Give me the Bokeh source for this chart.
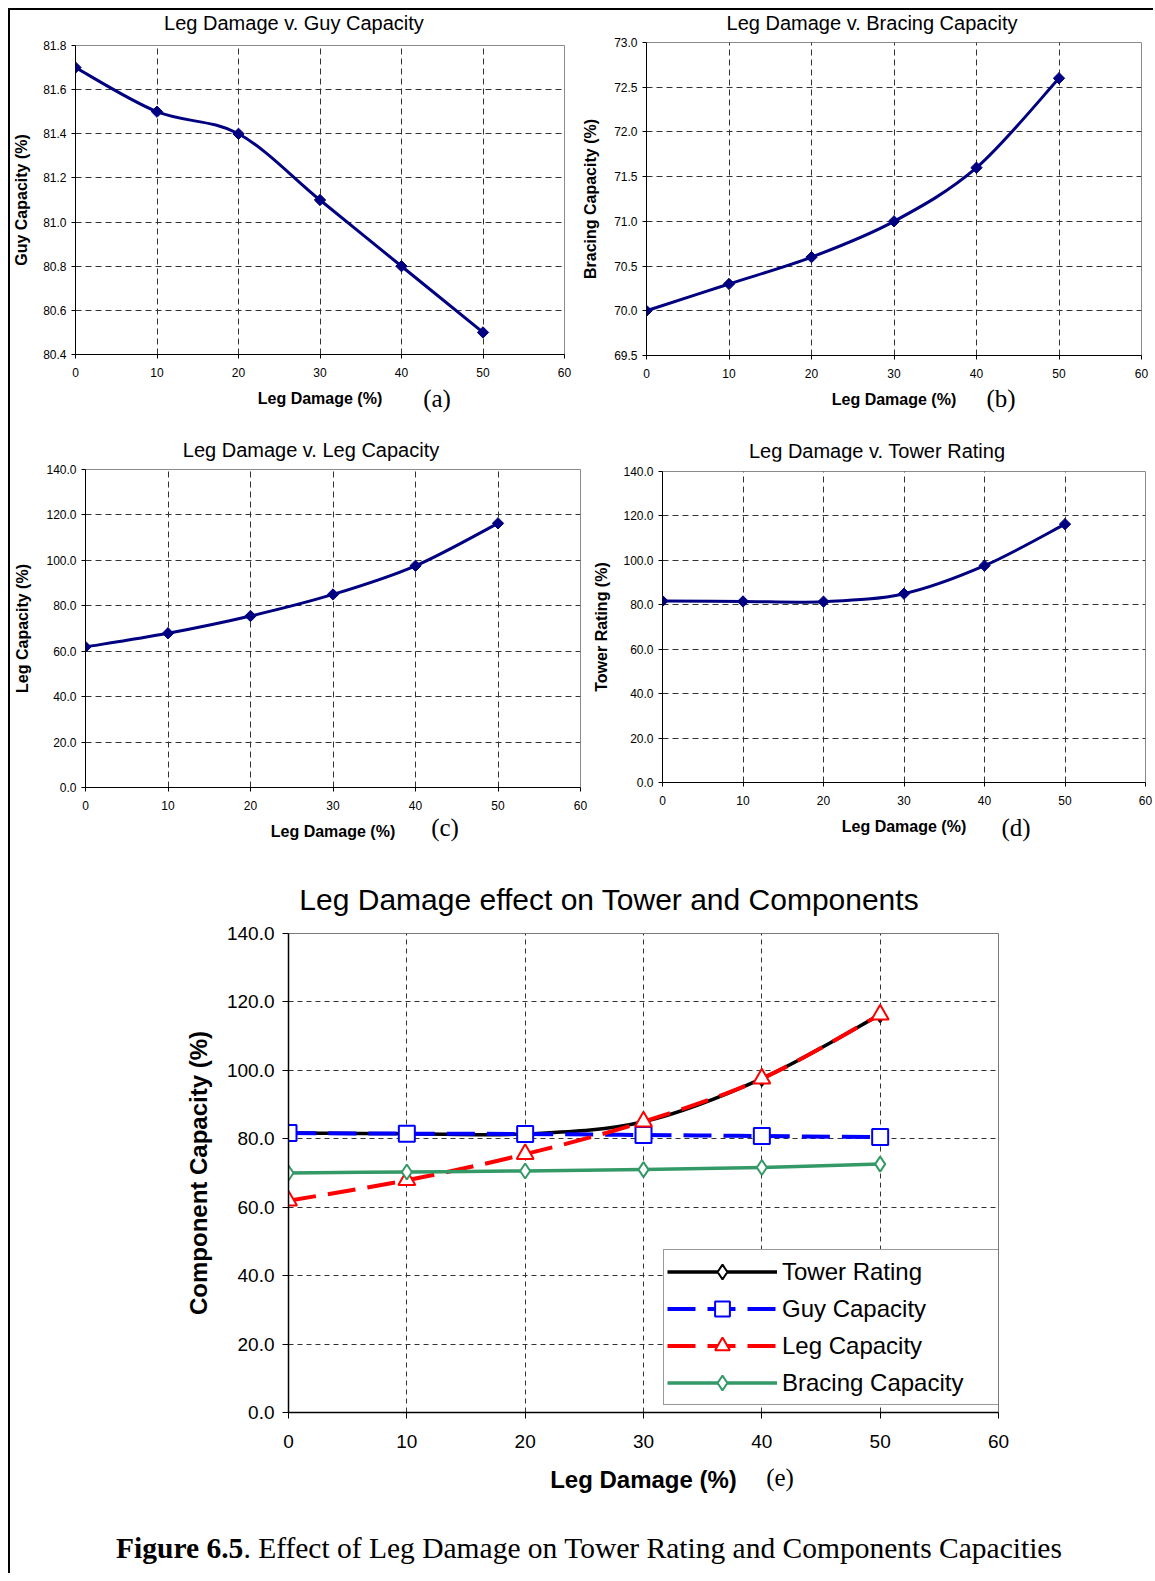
import math
from bokeh.plotting import figure
from bokeh.models import (Range1d, FixedTicker, PrintfTickFormatter,
                          Legend, LegendItem, Div)
from bokeh.layouts import column, row
from bokeh.embed import file_html
from bokeh.resources import INLINE

# ---------------- data ----------------
DAMAGE = [0, 10, 20, 30, 40, 50]
GUY = [81.7, 81.5, 81.4, 81.1, 80.8, 80.5]
BRACING = [70.0, 70.3, 70.6, 71.0, 71.6, 72.6]
LEG = [61.9, 67.9, 75.5, 85.0, 97.6, 116.3]
TOWER = [81.7, 81.5, 81.4, 85.0, 97.6, 116.3]

X_TICKS = [0, 10, 20, 30, 40, 50, 60]
GUY_TICKS = [80.4, 80.6, 80.8, 81.0, 81.2, 81.4, 81.6, 81.8]
BRACING_TICKS = [69.5, 70.0, 70.5, 71.0, 71.5, 72.0, 72.5, 73.0]
CAP_TICKS = [0, 20, 40, 60, 80, 100, 120, 140]

SANS = "Liberation Sans"
SERIF = "Liberation Serif"
NAVY = "#000080"


def smooth_parts(xs, ys):
    """Bezier control points (Catmull-Rom style, as in Excel smoothed lines)."""
    n = len(xs)
    out = dict(x0=[], y0=[], x1=[], y1=[], cx0=[], cy0=[], cx1=[], cy1=[])
    for i in range(n - 1):
        a = max(i - 1, 0)
        d = min(i + 2, n - 1)
        out["x0"].append(xs[i]); out["y0"].append(ys[i])
        out["x1"].append(xs[i + 1]); out["y1"].append(ys[i + 1])
        out["cx0"].append(xs[i] + (xs[i + 1] - xs[a]) / 6.0)
        out["cy0"].append(ys[i] + (ys[i + 1] - ys[a]) / 6.0)
        out["cx1"].append(xs[i + 1] - (xs[d] - xs[i]) / 6.0)
        out["cy1"].append(ys[i + 1] - (ys[d] - ys[i]) / 6.0)
    return out


def base_fig(left, fw, right, top, fh, bottom, yticks, ylabel, xlabel,
             tick_size, label_size, tick_out, tick_standoff_x, tick_standoff_y,
             lab_standoff_x, lab_standoff_y, grid_dash):
    p = figure(frame_width=fw, frame_height=fh,
               min_border_left=left, min_border_right=right,
               min_border_top=top, min_border_bottom=bottom,
               x_range=Range1d(X_TICKS[0], X_TICKS[-1]),
               y_range=Range1d(yticks[0], yticks[-1]),
               output_backend="svg", toolbar_location=None, margin=0)
    p.background_fill_color = "white"
    p.border_fill_color = "white"
    p.outline_line_color = "#8a8a8a"
    p.outline_line_width = 1
    p.xaxis.ticker = FixedTicker(ticks=X_TICKS)
    p.yaxis.ticker = FixedTicker(ticks=yticks)
    p.yaxis.formatter = PrintfTickFormatter(format="%.1f")
    p.xgrid.ticker = FixedTicker(ticks=X_TICKS[1:-1])
    p.ygrid.ticker = FixedTicker(ticks=yticks[1:-1])
    p.grid.grid_line_color = "#333333"
    p.grid.grid_line_dash = grid_dash
    p.grid.grid_line_width = 1
    for ax in (p.xaxis[0], p.yaxis[0]):
        ax.axis_line_color = "black"
        ax.axis_line_width = 1
        ax.major_tick_line_color = "black"
        ax.major_tick_in = 0
        ax.major_tick_out = tick_out
        ax.minor_tick_line_color = None
        ax.major_label_text_font = SANS
        ax.major_label_text_font_size = tick_size
        ax.major_label_text_color = "black"
        ax.axis_label_text_font = SANS
        ax.axis_label_text_font_style = "bold"
        ax.axis_label_text_font_size = label_size
        ax.axis_label_text_color = "black"
    p.xaxis.axis_label = xlabel
    p.yaxis.axis_label = ylabel
    p.xaxis.major_label_standoff = tick_standoff_x
    p.yaxis.major_label_standoff = tick_standoff_y
    p.xaxis.axis_label_standoff = lab_standoff_x
    p.yaxis.axis_label_standoff = lab_standoff_y
    return p


def title_div(text, width, height, center_x, center_y, size, line_h):
    box_w = 700
    html = ('<div style="font-family:\'Liberation Sans\';font-size:%s;'
            'color:black;white-space:nowrap;text-align:center;width:%dpx;'
            'margin-left:%dpx;margin-top:%.1fpx;line-height:%dpx;">%s</div>'
            % (size, box_w, int(round(center_x - box_w / 2)),
               center_y - line_h / 2.0, line_h, text))
    return Div(text=html, width=width, height=height, margin=0)


TAG_H = 46


def tag_div(tag, width, center_x, center_y):
    """Panel tag such as (a), laid over the bottom strip of its chart."""
    html = ('<div style="font-family:\'Liberation Serif\';font-size:25px;'
            'color:black;white-space:nowrap;text-align:center;width:100px;'
            'margin-left:%dpx;margin-top:%.1fpx;line-height:30px;">%s</div>'
            % (int(round(center_x - 50)), center_y - 15, tag))
    return Div(text=html, width=width, height=TAG_H,
               margin=(-TAG_H, 0, 0, 0),
               styles={"position": "relative", "z-index": "5",
                       "background": "transparent"})


def small_panel(width, left, fw, right, top, fh, bottom, yticks, vals, title,
                div_h, tcx, tcy, ylabel, tag, gx, gy, ylab_standoff):
    p = base_fig(left, fw, right, top, fh, bottom, yticks, ylabel,
                 "Leg Damage (%)", "12px", "16px", 4, 9, 5, 10, ylab_standoff,
                 "6 4")
    sp = smooth_parts(DAMAGE, vals)
    p.bezier(**sp, line_color=NAVY, line_width=3)
    p.scatter(DAMAGE, vals, marker="square", angle=math.pi / 4, size=8,
              fill_color=NAVY, line_color=NAVY, line_width=1)
    d = title_div(title, width, div_h, tcx, tcy, "20px", 24)
    return column(d, p, tag_div(tag, width, gx, gy), spacing=0)


ca = small_panel(565, 65, 489, 11, 10, 309, 76, GUY_TICKS, GUY,
                 "Leg Damage v. Guy Capacity", 25, 284, 13,
                 "Guy Capacity (%)", "(a)", 427, 15, 10)
cb = small_panel(578, 71, 495, 12, 7, 313, 75, BRACING_TICKS, BRACING,
                 "Leg Damage v. Bracing Capacity", 25, 297, 13,
                 "Bracing Capacity (%)", "(b)", 426, 15, 12)
cc = small_panel(580, 75, 495, 10, 8, 318, 63, CAP_TICKS, LEG,
                 "Leg Damage v. Leg Capacity", 31, 301, 19.5,
                 "Leg Capacity (%)", "(c)", 435, 24, 12)
cd = small_panel(563, 72, 483, 8, 10, 311, 68, CAP_TICKS, TOWER,
                 "Leg Damage v. Tower Rating", 31, 287, 20.5,
                 "Tower Rating (%)", "(d)", 426, 24, 10)

# ---------------- panel (e) ----------------
pe = base_fig(278, 710, 155, 10, 479, 88, CAP_TICKS, "Component Capacity (%)",
              "Leg Damage (%)", "19px", "24px", 6, 16, 8, 15, 12, "5 4")
pe.outline_line_color = "#7a7a7a"
pe.xaxis.axis_line_width = 1.5
pe.yaxis.axis_line_width = 1.5

series = [
    ("Tower Rating", TOWER, "black", None, "diamond", 15, 3.5),
    ("Guy Capacity", GUY, "#0000ff", "28 12", "square", 16, 4),
    ("Leg Capacity", LEG, "#ff0000", "28 12", "triangle", 17, 4),
    ("Bracing Capacity", BRACING, "#339966", None, "diamond", 15, 3.5),
]
items = []
for name, vals, color, dash, marker, msize, lw in series:
    sp = smooth_parts(DAMAGE, vals)
    kw = dict(line_color=color, line_width=lw)
    if dash:
        kw["line_dash"] = dash
    r1 = pe.bezier(**sp, **kw)
    r2 = pe.scatter(DAMAGE, vals, marker=marker, size=msize,
                    fill_color="white", line_color=color, line_width=2)
    items.append(LegendItem(label=name, renderers=[r1, r2]))

legend = Legend(items=items, location=(375, 7), glyph_width=110,
                glyph_height=37, label_height=37, spacing=0, padding=3,
                label_standoff=5, label_width=213, label_text_font=SANS,
                label_text_font_size="24px", label_text_color="black",
                border_line_color="#333333", border_line_width=1,
                background_fill_color="white", background_fill_alpha=1.0,
                margin=0)
pe.add_layout(legend)
de = title_div("Leg Damage effect on Tower and Components", 1143, 73, 599, 50,
               "30px", 36)
ce = column(de, pe, tag_div("(e)", 1143, 770, 24), spacing=0)

caption = Div(
    text=('<div style="font-family:\'Liberation Serif\';font-size:29.5px;'
          'color:black;text-align:center;margin-top:30px;width:1143px;'
          'box-sizing:border-box;padding-left:15px;white-space:nowrap;'
          'line-height:36px;">'
          '<b>Figure 6.5</b>. Effect of Leg Damage on '
          'Tower Rating and Components Capacities</div>'),
    width=1143, height=73, margin=0)

top_bar = Div(text="", width=1145, height=2, margin=0,
              styles={"background-color": "black"})
left_bar = Div(text="", width=2, height=1563, margin=0,
               styles={"background-color": "black"})

content = column(row(ca, cb, spacing=0), row(cc, cd, spacing=0), ce, caption,
                 spacing=0)
layout = column(top_bar, row(left_bar, content, spacing=0), spacing=0,
                margin=(8, 0, 0, 8))

open("out.html", "w").write(file_html(layout, INLINE))
